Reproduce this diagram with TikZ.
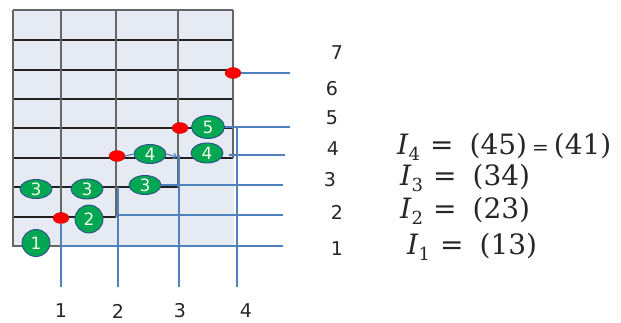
\documentclass[tikz,border=0pt]{standalone}
\usepackage{fontspec}
\setmainfont{DejaVu Sans}
\newfontfamily\eqfont{DejaVu Serif}
\usetikzlibrary{shapes.geometric,arrows.meta}
\definecolor{gridfill}{HTML}{E6EBF3}
\definecolor{gridgray}{HTML}{666666}
\definecolor{gridblack}{HTML}{222222}
\definecolor{blueline}{HTML}{4F81BD}
\definecolor{dotgreen}{HTML}{00A651}
\definecolor{dotedge}{HTML}{2F4F8F}
\definecolor{numwhite}{HTML}{F4F8E8}
\newcommand{\Isub}[1]{\textit{I}\raisebox{-0.45ex}{\fontsize{18}{18}\selectfont #1}}
\begin{document}
\begin{tikzpicture}[x=1pt,y=-1pt,
  vline/.style={draw=gridgray,line width=2.6pt},
  hline/.style={draw=gridblack,line width=1.4pt},
  bline/.style={draw=blueline,line width=1.1pt},
  ball/.style={ellipse,fill=dotgreen,draw=dotedge,line width=0.9pt,text=numwhite,
    font=\fontsize{17}{17}\selectfont,inner sep=0pt},
  reddot/.style={ellipse,fill=red,draw=red!75!black,line width=0.3pt,
    minimum width=16pt,minimum height=11pt,inner sep=0pt},
  lab/.style={font=\fontsize{19}{19}\selectfont,text=black!85,inner sep=0pt},
  eq/.style={font=\eqfont\fontsize{28}{28}\selectfont,text=black!85,inner sep=0pt,anchor=west}]
\useasboundingbox (0,0) rectangle (621,322);
% background grid area
\fill[gridfill] (13,10) rectangle (234,246);
% horizontal grid lines
\foreach \y in {40,70,99,128,158} \draw[hline] (13,\y) -- (233,\y);
\draw[hline] (13,187) -- (178,187);
\draw[hline] (13,217) -- (116,217);
% vertical grid lines and border
\draw[vline] (13,10) -- (233,10);
\draw[vline] (13,10) -- (13,246) -- (61,246);
\draw[vline] (61,10) -- (61,217);
\draw[vline] (116,10) -- (116,217);
\draw[vline] (178,10) -- (178,187);
\draw[vline] (233,10) -- (233,158);
% coordinates for connector ends
\coordinate (h1a) at (61,246);  \coordinate (h1b) at (283,246);
\coordinate (v1b) at (61,287);
\coordinate (v2a) at (118,187); \coordinate (v2b) at (118,287);
\coordinate (h2a) at (118,215); \coordinate (h2b) at (283,215);
\coordinate (h3b) at (283,185);
\coordinate (v3a) at (179,155); \coordinate (v3b) at (179,287);
\coordinate (h4a) at (229,155); \coordinate (h4b) at (285,155);
\coordinate (v4a) at (237,126); \coordinate (v4b) at (237,287);
\coordinate (h5b) at (290,126);
\coordinate (h7b) at (290,73);
\coordinate (arr) at (177,157);
% nodes
\node[ball,minimum width=28pt,minimum height=27pt] (c1) at (36,243) {1};
\node[ball,minimum width=28pt,minimum height=28pt] (c2) at (89,219) {2};
\node[ball,minimum width=32pt,minimum height=19pt] (c3a) at (36,189) {3};
\node[ball,minimum width=32pt,minimum height=20pt] (c3b) at (87,189) {3};
\node[ball,minimum width=32pt,minimum height=19pt] (c3c) at (145,185) {3};
\node[ball,minimum width=32pt,minimum height=19pt] (c4a) at (150,154) {4};
\node[ball,minimum width=32pt,minimum height=20pt] (c4b) at (207,153) {4};
\node[ball,minimum width=33pt,minimum height=23pt] (c5) at (208,127) {5};
\node[reddot] (r1) at (61,218) {};
\node[reddot] (r2) at (117,156) {};
\node[reddot] (r3) at (180,128) {};
\node[reddot] (r4) at (233,73) {};
% blue connectors
\draw[bline] (h1a) -- (h1b);
\draw[bline] (r1.south) -- (v1b);
\draw[bline] (v2a) -- (v2b);
\draw[bline] (h2a) -- (h2b);
\draw[bline] (c3c.east) -- (c3c.east -| h3b);
\draw[bline] (v3a) -- (v3b);
\draw[bline] (h4a) -- (h4b);
\draw[bline] (v4a) -- (v4b);
\draw[bline] (c5.east) -- (c5.east -| h5b);
\draw[bline] (r4.east) -- (r4.east -| h7b);
\draw[bline] (r2.east) -- (c4a.west);
\draw[bline,-{Straight Barb[length=3pt,width=6pt]}] (c4a.east) -- (arr);
% axis labels
\node[lab] (y7) at (337,53) {7};
\node[lab] (y6) at (332,89) {6};
\node[lab] (y5) at (332,118) {5};
\node[lab] (y4) at (333,149) {4};
\node[lab] (y3) at (330,180) {3};
\node[lab] (y2) at (337,212) {2};
\node[lab] (y1) at (337,249) {1};
\node[lab] (x1) at (61,311) {1};
\node[lab] (x2) at (118,311) {2};
\node[lab] (x3) at (180,311) {3};
\node[lab] (x4) at (246,311) {4};
% equations
\node[eq] (e4) at (397,147) {\Isub{4}\hspace{10pt}=\hspace{16pt}(45)\hspace{5pt}{\fontsize{20}{20}\selectfont =}\hspace{5pt}(41)};
\node[eq] (e3) at (400,178) {\Isub{3}\hspace{10pt}=\hspace{16pt}(34)};
\node[eq] (e2) at (400,211) {\Isub{2}\hspace{10pt}=\hspace{16pt}(23)};
\node[eq] (e1) at (407,247) {\Isub{1}\hspace{10pt}=\hspace{16pt}(13)};
\end{tikzpicture}
\end{document}
